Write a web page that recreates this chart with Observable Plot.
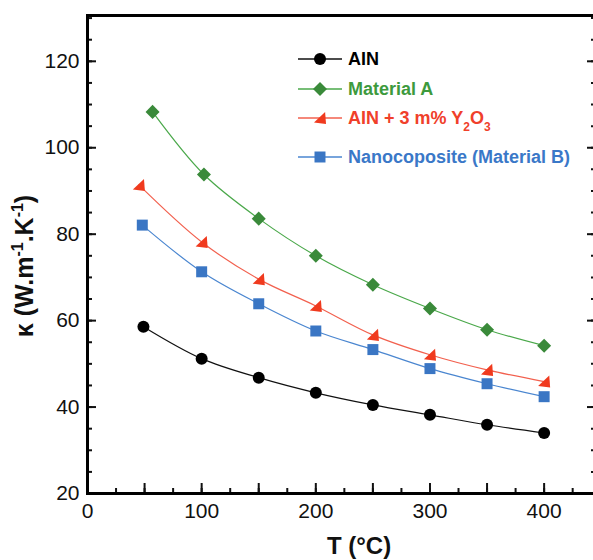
<!DOCTYPE html>
<html><head><meta charset="utf-8">
<script src="https://cdn.jsdelivr.net/npm/d3@7"></script>
<script src="https://cdn.jsdelivr.net/npm/@observablehq/plot@0.6"></script>
<style>
html,body{margin:0;padding:0;background:#fff;}
#wrap{position:relative;width:593px;height:560px;overflow:hidden;font-family:"Liberation Sans",Arial,sans-serif;}
#wrap > svg.plot{max-width:none !important;}
.sw{position:absolute;left:298px;}
.lt{position:absolute;left:348px;font-weight:bold;font-size:18px;line-height:22px;white-space:nowrap;}
.lt sub{font-size:12px;line-height:0;vertical-align:-7px;}
</style></head><body><div id="wrap"></div>
<script>
// ---- data ----
const seriesNames = ["AIN", "Material A", "AIN + 3 m% Y2O3", "Nanocoposite (Material B)"];
const T_ain  = [49, 100, 150, 200, 250, 300, 350, 400];
const k_ain  = [58.6, 51.2, 46.8, 43.3, 40.5, 38.2, 35.9, 34.0];
const T_matA = [57, 102, 150, 200, 250, 300, 350, 400];
const k_matA = [108.3, 93.8, 83.6, 75.0, 68.3, 62.8, 57.9, 54.2];
const T_ainY = [45, 100, 150, 200, 250, 300, 350, 400];
const k_ainY = [91.4, 78.2, 69.6, 63.4, 56.7, 52.1, 48.6, 45.9];
const T_matB = [48, 100, 150, 200, 250, 300, 350, 400];
const k_matB = [82.1, 71.3, 63.9, 57.6, 53.3, 48.9, 45.4, 42.4];
const xTickLabels = [0, 100, 200, 300, 400];
const yTickLabels = [20, 40, 60, 80, 100, 120];
const xMinorTicks = d3.range(0, 445, 25);
const xMidTicks = d3.range(0, 445, 50);
const yMinorTicks = d3.range(20, 131, 5);
const yMajorTicks = d3.range(20, 131, 20);

// ---- marker shapes ----
const diamond = {draw(c, size){const h = Math.sqrt(size/2); c.moveTo(0,-h); c.lineTo(h,0); c.lineTo(0,h); c.lineTo(-h,0); c.closePath();}};
const square = {draw(c, size){const s = Math.sqrt(size)/2; c.rect(-s,-s,2*s,2*s);}};
const rtri = {draw(c, size){const s = Math.sqrt(size)/2; c.moveTo(-s, s*0.75); c.lineTo(s*0.85, -s); c.lineTo(s, s); c.closePath();}};

const styles = [
  {T: T_ain,  k: k_ain,  line: "#111", fill: "#000", symbol: "circle", r: 6, text: "#000"},
  {T: T_matA, k: k_matA, line: "#4aa84a", fill: "#3a8a3a", symbol: diamond, r: 5.6, text: "#3d9a3d"},
  {T: T_ainY, k: k_ainY, line: "#f2604e", fill: "#f03a1e", symbol: rtri, r: 6.8, text: "#f0402a"},
  {T: T_matB, k: k_matB, line: "#4a86d0", fill: "#3a76c4", symbol: square, r: 6.2, text: "#3a78c8"}
];

const marks = [];
styles.forEach((s, i) => {
  const rows = s.T.map((t, j) => ({T: t, k: s.k[j], name: seriesNames[i]}));
  marks.push(Plot.line(rows, {x: "T", y: "k", stroke: s.line, strokeWidth: 1.2, curve: "catmull-rom"}));
  marks.push(Plot.dot(rows, {x: "T", y: "k", symbol: s.symbol, r: s.r, fill: s.fill, stroke: "none"}));
});

const ink = "#111";
const chart = Plot.plot({
  width: 600, height: 560,
  marginLeft: 87, marginRight: 5, marginTop: 15, marginBottom: 67,
  x: {domain: [0, 445]},
  y: {domain: [20, 130.6]},
  style: {fontFamily: '"Liberation Sans", Arial, sans-serif', background: "white", color: ink, overflow: "visible", maxWidth: "none"},
  marks: [
    ...marks,
    Plot.axisY(yMinorTicks, {tickSize: -5, text: null, strokeWidth: 2, stroke: ink, label: null}),
    Plot.axisY(yMajorTicks, {tickSize: -9, text: null, strokeWidth: 2, stroke: ink, label: null}),
    Plot.axisY(yMinorTicks, {anchor: "right", tickSize: -5, text: null, strokeWidth: 2, stroke: ink, label: null}),
    Plot.axisY(yMajorTicks, {anchor: "right", tickSize: -9, text: null, strokeWidth: 2, stroke: ink, label: null}),
    Plot.axisY(yTickLabels, {tickSize: 0, tickPadding: 8, fontSize: 21, fill: ink, label: null}),
    Plot.axisX(xMinorTicks, {tickSize: -5, text: null, strokeWidth: 2, stroke: ink, label: null}),
    Plot.axisX(xMidTicks, {tickSize: -10, text: null, strokeWidth: 2, stroke: ink, label: null}),
    Plot.axisX(xTickLabels, {tickSize: 0, tickPadding: 10, fontSize: 21, fill: ink, label: null}),
    Plot.frame({stroke: "#000", strokeWidth: 3})
  ]
});
chart.style.maxWidth = "none";
chart.style.width = "600px";
chart.style.height = "560px";

const svg = d3.select(chart);
// y-axis title
const yt = svg.append("text")
  .attr("transform", "translate(33,266) rotate(-90)")
  .attr("text-anchor", "middle")
  .attr("font-weight", "bold").attr("font-size", 25).attr("fill", ink)
  .attr("font-family", '"Liberation Sans", Arial, sans-serif');
yt.append("tspan").text("κ (W.m");
yt.append("tspan").attr("dy", -10).attr("font-size", 16).text("-1");
yt.append("tspan").attr("dy", 10).text(".K");
yt.append("tspan").attr("dy", -10).attr("font-size", 16).text("-1");
yt.append("tspan").attr("dy", 10).text(")");
// x-axis title
svg.append("text")
  .attr("x", 359).attr("y", 554)
  .attr("text-anchor", "middle")
  .attr("font-weight", "bold").attr("font-size", 24).attr("fill", ink)
  .attr("font-family", '"Liberation Sans", Arial, sans-serif')
  .text("T (°C)");

const wrap = document.getElementById("wrap");
wrap.appendChild(chart);

// legend (inside the plot area)
const legendRows = [59, 89, 118, 157];
const legendHTML = ["AIN", "Material A", "AIN + 3 m% Y<sub>2</sub>O<sub>3</sub>", "Nanocoposite (Material B)"];
styles.forEach((s, i) => {
  const cy = legendRows[i];
  const sw = d3.select(wrap).append("svg").attr("class", "sw")
    .attr("width", 46).attr("height", 18).style("top", (cy - 9) + "px");
  sw.append("line").attr("x1", 0).attr("x2", 44).attr("y1", 9).attr("y2", 9)
    .attr("stroke", s.line).attr("stroke-width", 1.4);
  const size = Math.PI * s.r * s.r;
  const sym = s.symbol === "circle" ? d3.symbolCircle : s.symbol;
  sw.append("path").attr("transform", "translate(22,9)")
    .attr("d", d3.symbol(sym, size)()).attr("fill", s.fill);
  const t = document.createElement("div");
  t.className = "lt";
  t.style.top = (cy - 11) + "px";
  t.style.color = s.text;
  t.innerHTML = legendHTML[i];
  wrap.appendChild(t);
});
</script>
</body></html>
